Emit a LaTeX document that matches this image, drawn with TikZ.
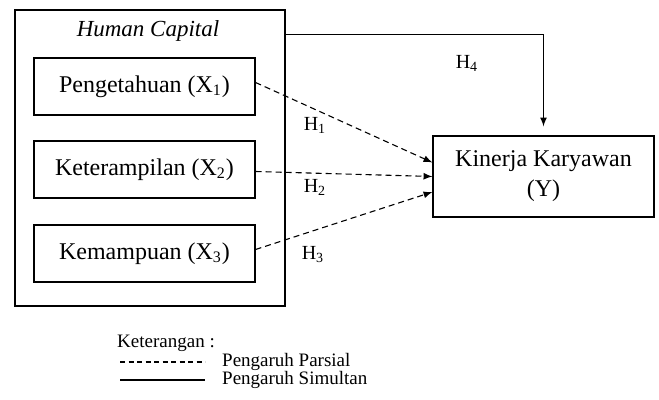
\documentclass[tikz,border=0pt]{standalone}
\usepackage{fontspec}
\setmainfont{Liberation Serif}
\usepackage{tikz}
\usetikzlibrary{arrows, positioning}
\tikzset{>=latex}

\begin{document}
\begin{tikzpicture}[x=0.5pt,y=-0.5pt,line width=0.55pt,
        varbox/.style={draw, minimum width=110.5pt, minimum height=28.5pt, inner sep=0pt, font=\fontsize{12}{15}\selectfont},
        hlabel/.style={font=\fontsize{10}{12}\selectfont},
        partial/.style={->, dash pattern=on 3pt off 2pt},
        note/.style={font=\fontsize{9.5}{11}\selectfont, anchor=west}]
        \useasboundingbox (0,0) rectangle (659,400);

        % human capital block
        \node[draw, minimum width=135pt, minimum height=148pt] (hc) at (150,158) {};
        \node[font=\fontsize{11.5}{14}\selectfont\itshape] (title) at (148,31) {Human Capital};
        \node[varbox] (x1) at (144.5,86.5) {Pengetahuan (X\textsubscript{1})};
        \node[varbox] (x2) at (144.5,169.5) {Keterampilan (X\textsubscript{2})};
        \node[varbox] (x3) at (144.5,253.5) {Kemampuan (X\textsubscript{3})};
        \node[varbox, minimum height=40.5pt, align=center] (y) at (543.5,176.5) {Kinerja Karyawan\\(Y)};

        \draw[partial] ([yshift=2pt]x1.east) -- ([yshift=7pt]y.west);
        \draw[partial] ([yshift=-1pt]x2.east) -- (y.west);
        \draw[partial] ([yshift=2pt]x3.east) -- ([yshift=-7.75pt]y.west);
        \draw[->] ([yshift=-12.5pt]hc.north east) -| ([yshift=4.5pt]y.north);

        \node[hlabel] (h1) at (315,125) {H\textsubscript{1}};
        \node[hlabel] (h2) at (315,187) {H\textsubscript{2}};
        \node[hlabel] (h3) at (313,255) {H\textsubscript{3}};
        \node[hlabel] (h4) at (467,63) {H\textsubscript{4}};

        % keterangan
        \node[note] (ket) at (110,343) {Keterangan :};
        \coordinate (pa) at (120,362);
        \coordinate (pb) at (205,362);
        \coordinate (sa) at (120,380);
        \coordinate (sb) at (205,380);
        \draw[dash pattern=on 2.5pt off 1.75pt] (pa) -- (pb);
        \draw (sa) -- (sb);
        \node[note] (parsial) at (215,362) {Pengaruh Parsial};
        \node[note] (simultan) at (215,380) {Pengaruh Simultan};
        \end{tikzpicture}
\end{document}
